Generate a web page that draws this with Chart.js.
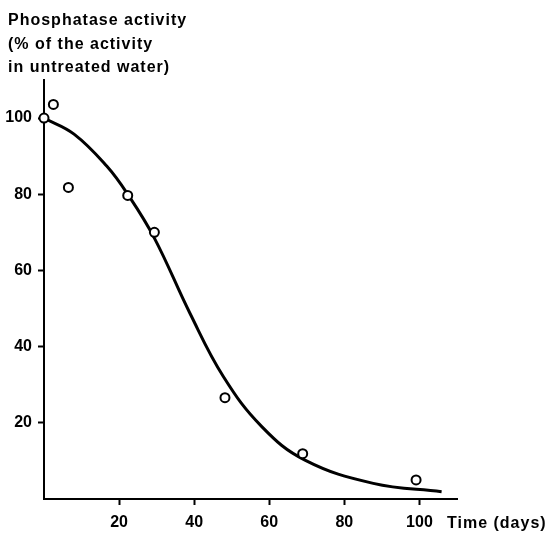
<!DOCTYPE html>
<html>
<head>
<meta charset="utf-8">
<script src="https://cdn.jsdelivr.net/npm/chart.js@4/dist/chart.umd.min.js"></script>
<style>
  html, body { margin: 0; padding: 0; background: #fff; }
  #wrap { width: 545px; height: 534px; }
</style>
</head>
<body>
<div id="wrap"><canvas id="chart" width="545" height="534"></canvas></div>
<script>
  // measured samples: time (days) vs activity (%)
  const sampleDays = [0, 2.5, 6.5, 22.3, 29.4, 48.2, 68.9, 99.1];
  const sampleActivity = [100, 103.6, 81.8, 79.7, 70, 26.6, 11.9, 5.0];

  // fitted curve drawn through the samples
  const curveDays = [0, 8, 16.7, 22.3, 29.4, 38.9, 47.8, 58, 69.5, 87.7, 105.9];
  const curveActivity = [100, 95.8, 87.4, 80.0, 68.5, 48.7, 32.1, 19.0, 10.2, 4.1, 1.9];

  const xTicks = [20, 40, 60, 80, 100];
  const yTicks = [20, 40, 60, 80, 100];

  const titleLines = ['Phosphatase activity', '(% of the activity', 'in untreated water)'];
  const xLabel = 'Time (days)';

  const FONT = '"Liberation Sans", Arial, sans-serif';

  const toPoints = (xs, ys) => xs.map((x, i) => ({ x: x, y: ys[i] }));

  const axisText = {
    id: 'axisText',
    afterDraw(chart) {
      const ctx = chart.ctx;
      ctx.save();
      ctx.fillStyle = '#000';
      ctx.font = 'bold 16px ' + FONT;
      ctx.letterSpacing = '1px';
      ctx.textAlign = 'left';
      ctx.textBaseline = 'alphabetic';
      titleLines.forEach((t, i) => ctx.fillText(t, 8, 25 + i * 23.5));
      ctx.fillText(xLabel, 447, 528);
      ctx.restore();
    }
  };

  const scaleStyle = {
    type: 'linear',
    min: 0,
    max: 110,
    grid: {
      display: true,
      drawOnChartArea: false,
      drawTicks: true,
      tickLength: 6,
      tickWidth: 2,
      tickColor: '#000'
    },
    border: { display: true, color: '#000', width: 2 },
    ticks: {
      color: '#000',
      font: { family: FONT, size: 16, weight: 'bold' }
    }
  };

  new Chart(document.getElementById('chart'), {
    type: 'scatter',
    data: {
      datasets: [
        {
          data: toPoints(sampleDays, sampleActivity),
          pointRadius: 4.5,
          pointBorderWidth: 2,
          pointBorderColor: '#000',
          pointBackgroundColor: '#fff',
          clip: false,
          order: 1
        },
        {
          data: toPoints(curveDays, curveActivity),
          showLine: true,
          tension: 0.4,
          borderColor: '#000',
          borderWidth: 3,
          pointRadius: 0,
          order: 2
        }
      ]
    },
    options: {
      responsive: false,
      animation: false,
      layout: { padding: { top: 80, right: 88, left: 0, bottom: 0 } },
      plugins: { legend: { display: false }, tooltip: { enabled: false } },
      scales: {
        x: Object.assign({}, scaleStyle, {
          ticks: Object.assign({}, scaleStyle.ticks, { padding: 8, maxRotation: 0 }),
          afterBuildTicks(scale) { scale.ticks = xTicks.map(v => ({ value: v })); },
          afterFit(scale) { scale.height = 35; }
        }),
        y: Object.assign({}, scaleStyle, {
          ticks: Object.assign({}, scaleStyle.ticks, { padding: 6 }),
          afterBuildTicks(scale) { scale.ticks = yTicks.map(v => ({ value: v })); },
          afterFit(scale) { scale.width = 44; }
        })
      }
    },
    plugins: [axisText]
  });
</script>
</body>
</html>
